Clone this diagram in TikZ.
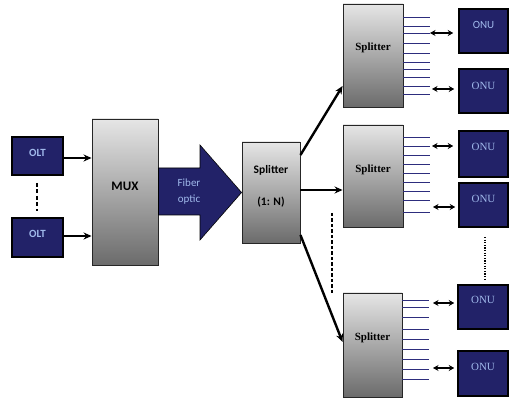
\documentclass[tikz,border=0pt]{standalone}
\usepackage{fontspec}
\setmainfont{Liberation Serif}
\newfontfamily\calib{Carlito}
\usetikzlibrary{arrows.meta,shadows,calc}
\definecolor{navy}{RGB}{34,34,104}
\definecolor{lblue}{RGB}{160,185,235}
\definecolor{lineblue}{RGB}{45,45,125}
\tikzset{
  graybox/.style={draw=black!85,line width=0.9pt,top color=black!10,bottom color=black!58,
    drop shadow={shadow xshift=1.4pt,shadow yshift=-1.4pt,fill=black,opacity=0.6},inner sep=0pt},
  navybox/.style={draw=black,line width=1.5pt,fill=navy,inner sep=0pt},
  oltlbl/.style={text=lblue,font=\calib\bfseries\fontsize{11}{13}\selectfont},
  onulbl/.style={text=lblue,font=\fontsize{11}{13}\selectfont},
  onusans/.style={text=lblue,font=\calib\fontsize{11}{13}\selectfont},
  splserif/.style={font=\bfseries\fontsize{11}{13}\selectfont},
  thickarrow/.style={line width=2.4pt,-{Stealth[length=8pt,width=7pt]}},
  dblarrow/.style={line width=2.2pt,{Stealth[length=5.5pt,width=6pt]}-{Stealth[length=5.5pt,width=6pt]}},
  splline/.style={lineblue,line width=0.8pt},
}
\begin{document}
\begin{tikzpicture}[x=1pt,y=-1pt]
\useasboundingbox (0,0) rectangle (512,398);
% OLTs
\node[navybox,minimum width=51,minimum height=38] (olt1) at (37.5,156) {};
\node[oltlbl] (olt1t) at (37.5,153) {OLT};
\node[navybox,minimum width=51,minimum height=39] (olt2) at (37.5,237.5) {};
\node[oltlbl] (olt2t) at (37.5,234) {OLT};
\coordinate (d1) at (37,183);
\coordinate (d2) at (37,211);
\draw[line width=1.7pt,dash pattern=on 4pt off 2.5pt] (d1) -- (d2);
% MUX
\node[graybox,minimum width=66,minimum height=146] (mux) at (125,192) {};
\node[font=\calib\bfseries\fontsize{13}{15}\selectfont] (muxt) at (125,186) {MUX};
\draw[thickarrow] (olt1.east |- 0,158) -- (mux.west |- 0,158);
\draw[thickarrow] (olt2.east |- 0,236) -- (mux.west |- 0,236);
% Splitter 1:N
\node[graybox,minimum width=58,minimum height=101] (s1n) at (271,192.5) {};
\node[font=\calib\bfseries\fontsize{11.5}{13}\selectfont] (s1nt) at (271,170) {Splitter};
\node[font=\calib\bfseries\fontsize{11.5}{13}\selectfont] (s1nt2) at (271,202) {(1: N)};
% Fiber arrow
\draw[black,line width=0.6pt,fill=navy] (mux.east |- 0,168) -- (200,168) -- (200,145) -- (s1n.west) -- (200,240) -- (200,215) -- (mux.east |- 0,215) -- cycle;
\node[text=lblue,font=\calib\fontsize{11}{13}\selectfont,align=center] (fib) at (189,192) {Fiber\\[3pt]optic};
% Splitters
\node[graybox,minimum width=60,minimum height=103] (sa) at (373,55.5) {};
\node[splserif] (sat) at (373,48) {Splitter};
\node[graybox,minimum width=60,minimum height=102] (sb) at (373,176) {};
\node[splserif] (sbt) at (373,170) {Splitter};
\node[graybox,minimum width=59,minimum height=104] (sc) at (372.5,345) {};
\node[splserif] (sct) at (372.5,338) {Splitter};
% arrows from 1:N
\draw[thickarrow] (s1n.east |- 0,155) -- (sa.west |- 0,86);
\draw[thickarrow] (s1n.east |- 0,190) -- (sb.west |- 0,190);
\draw[thickarrow] (s1n.east |- 0,235) -- (sc.west |- 0,342);
% splitter output lines
\foreach \y in {17,26,33,43,53,62,69,77,86,94}
  \draw[splline] (sa.east |- 0,\y) -- ++(27,0);
\foreach \y in {137,146,155,164,173,182,191,200,212}
  \draw[splline] (sb.east |- 0,\y) -- ++(27,0);
\foreach \y in {300,307,317,329,339,349,359,369,379}
  \draw[splline] (sc.east |- 0,\y) -- ++(27,0);
% ONUs
\node[navybox,minimum width=49,minimum height=44] (onu1) at (483.5,31) {};
\node[onusans] (onu1t) at (483.5,25) {ONU};
\node[navybox,minimum width=49,minimum height=44] (onu2) at (483.5,91) {};
\node[onulbl] (onu2t) at (483.5,86) {ONU};
\node[navybox,minimum width=49,minimum height=46] (onu3) at (483.5,154) {};
\node[onulbl] (onu3t) at (483.5,147) {ONU};
\node[navybox,minimum width=49,minimum height=44] (onu4) at (483.5,205) {};
\node[onulbl] (onu4t) at (483.5,199) {ONU};
\node[navybox,minimum width=50,minimum height=44] (onu5) at (483,307) {};
\node[onulbl] (onu5t) at (483,300) {ONU};
\node[navybox,minimum width=50,minimum height=45] (onu6) at (483,373.5) {};
\node[onulbl] (onu6t) at (483,367) {ONU};
% double arrows
\draw[dblarrow] (430,33) -- ([xshift=-5pt]onu1.west |- 0,33);
\draw[dblarrow] (432,89) -- ([xshift=-4pt]onu2.west |- 0,89);
\draw[dblarrow] (432,146) -- ([xshift=-5pt]onu3.west |- 0,146);
\draw[dblarrow] (433,207) -- ([xshift=-3pt]onu4.west |- 0,207);
\draw[dblarrow] (433,303) -- ([xshift=-3pt]onu5.west |- 0,303);
\draw[dblarrow] (433,368) -- ([xshift=-3pt]onu6.west |- 0,368);
% vertical dashed/dotted
\coordinate (v1) at (332,213);
\coordinate (v2) at (332,294);
\draw[line width=1.3pt,dash pattern=on 3.5pt off 2pt] (v1) -- (v2);
\coordinate (w1) at (485,237);
\coordinate (w2) at (485,279);
\draw[line width=1.8pt,dash pattern=on 1.3pt off 1.3pt] (w1) -- (w2);
\end{tikzpicture}
\end{document}
